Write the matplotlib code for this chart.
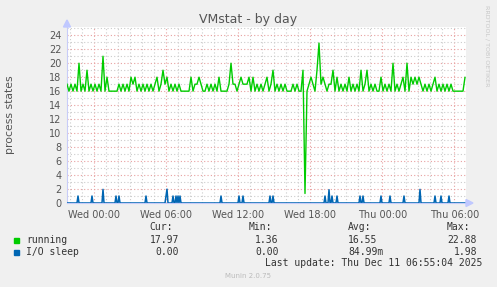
import numpy as np
import matplotlib
matplotlib.use("Agg")
import matplotlib.pyplot as plt
from matplotlib.ticker import MultipleLocator

# --- data (hours relative to Wed 00:00) ---
# running: one sample every 10 min, starting Tue ~21:43
run_start = -2.275
run_step = 1 / 6
running = [
    17, 16, 17, 16, 17, 16, 20, 16, 17, 16,
    19, 16, 17, 16, 17, 16, 17, 16, 21, 16,
    18, 16, 16, 16, 16, 16, 17, 16, 17, 16,
    17, 16, 18, 17, 18, 16, 17, 16, 17, 16,
    17, 16, 17, 16, 17, 18, 16, 17, 19, 17,
    18, 16, 17, 16, 17, 16, 17, 16, 16, 16,
    16, 16, 18, 16, 17, 17, 18, 17, 16, 16,
    17, 16, 17, 16, 17, 16, 18, 16, 16, 16,
    16, 17, 20, 17, 17, 16, 17, 18, 17, 17,
    17, 18, 16, 18, 16, 17, 16, 17, 16, 17,
    18, 16, 17, 19, 16, 17, 16, 17, 16, 17,
    16, 16, 16, 17, 16, 17, 16, 16, 19, 1.36,
    16, 17, 18, 17, 16, 19, 22.88, 17, 18, 17,
    16, 17, 17, 19, 16, 18, 16, 17, 16, 17,
    16, 18, 16, 17, 16, 17, 16, 19, 16, 17,
    19, 16, 17, 16, 17, 16, 16, 18, 16, 17,
    16, 17, 16, 20, 16, 17, 16, 17, 18, 16,
    20, 16, 18, 17, 18, 17, 18, 17, 16, 17,
    16, 17, 16, 17, 18, 16, 17, 16, 17, 16,
    17, 16, 17, 16, 16, 16, 16, 16, 16, 17.97,
]

# I/O sleep: 5-min samples, zero except these spikes (sample index, value)
io_count = 400
io_step = 1 / 12
io_spike_idx = [11, 25, 36, 49, 52, 79, 99, 100, 106, 109, 111, 113, 154,
                172, 176, 203, 206, 258, 262, 265, 270, 293, 296, 314, 323,
                337, 353, 368, 374, 382]
io_spike_val = [1, 1, 1.95, 1, 1, 1, 1, 1.98, 1, 1, 1, 1, 1,
                1, 1, 1, 1, 1, 1.9, 1, 1, 1, 1, 1, 1,
                1, 1.95, 1, 1, 1]

tick_pos = [0, 6, 12, 18, 24, 30]
tick_labels = ["Wed 00:00", "Wed 06:00", "Wed 12:00", "Wed 18:00",
               "Thu 00:00", "Thu 06:00"]

series_names = ["running", "I/O sleep"]
series_colors = ["#00CC00", "#0066B3"]
cur_vals = ["17.97", "0.00"]
min_vals = ["1.36", "0.00"]
avg_vals = ["16.55", "84.99m"]
max_vals = ["22.88", "1.98"]

# --- figure ---
W, H = 497, 287
fig = plt.figure(figsize=(W / 100, H / 100), dpi=100, facecolor="#F0F0F0")

def fx(px):
    return px / W

def fy(py):
    return 1 - py / H

left, right, top, bottom = 67, 466, 27, 203
ax = fig.add_axes([fx(left), fy(bottom), fx(right - left), fy(top) - fy(bottom)])
ax.set_facecolor("white")

run_t = run_start + run_step * np.arange(len(running))
io = np.zeros(io_count)
io[io_spike_idx] = io_spike_val
io_t = run_start + io_step * np.arange(io_count)

ax.set_xlim(run_start, run_start + 399 / 12)
ax.set_ylim(0, (bottom - top) / 6.99)

# grid
ax.xaxis.set_major_locator(MultipleLocator(6))
ax.xaxis.set_minor_locator(MultipleLocator(1))
ax.yaxis.set_major_locator(MultipleLocator(2))
ax.yaxis.set_minor_locator(MultipleLocator(1))
ax.grid(which="minor", color="#CCCCCC", linestyle=(0, (1, 2)), lw=0.8)
ax.grid(which="major", color="#E8A0A0", linestyle=(0, (1, 2)), lw=0.8)
ax.set_axisbelow(True)

ax.plot(run_t, running, color=series_colors[0], lw=1, zorder=3)
ax.plot(io_t, io, color=series_colors[1], lw=1.1, zorder=4)

ax.set_xticks(tick_pos)
ax.set_xticklabels(tick_labels)
ax.tick_params(which="both", length=0, labelsize=7, colors="#555555", pad=5)
ax.tick_params(axis="y", pad=4)

for s in ["top", "right"]:
    ax.spines[s].set_visible(False)
for s in ["left", "bottom"]:
    ax.spines[s].set_color("#C8CCF8")
    ax.spines[s].set_linewidth(0.8)

# axis arrows
fig.patches.append(plt.Polygon([[fx(63.5), fy(27)], [fx(70.5), fy(27)], [fx(67), fy(20)]],
                               closed=True, transform=fig.transFigure,
                               color="#C0C8FF", zorder=5))
fig.patches.append(plt.Polygon([[fx(466), fy(199.5)], [fx(466), fy(206.5)], [fx(473), fy(203)]],
                               closed=True, transform=fig.transFigure,
                               color="#C0C8FF", zorder=5))

fig.text(fx(248), fy(19), "VMstat - by day", ha="center", va="center",
         fontsize=9, color="#555555")
fig.text(fx(10), fy(115), "process states", ha="center", va="center",
         rotation=90, fontsize=7.8, color="#555555")
fig.text(fx(487), fy(5), "RRDTOOL / TOBI OETIKER", ha="center", va="top",
         rotation=270, fontsize=4.6, color="#C8C8C8")

# legend block
mono = "DejaVu Sans Mono"
tc = "#333333"
fs = 7
fig.text(fx(173), fy(227), "Cur:", ha="right", va="center", family=mono, fontsize=fs, color=tc)
fig.text(fx(272), fy(227), "Min:", ha="right", va="center", family=mono, fontsize=fs, color=tc)
fig.text(fx(348), fy(227), "Avg:", ha="left", va="center", family=mono, fontsize=fs, color=tc)
fig.text(fx(470), fy(227), "Max:", ha="right", va="center", family=mono, fontsize=fs, color=tc)
for k, y in enumerate([240, 252]):
    fig.patches.append(plt.Rectangle((fx(14), fy(y + 2.5)), fx(5), fy(0) - fy(5),
                                     transform=fig.transFigure, color=series_colors[k]))
    fig.text(fx(26.5), fy(y), series_names[k], ha="left", va="center",
             family=mono, fontsize=fs, color=tc)
    fig.text(fx(179), fy(y), cur_vals[k], ha="right", va="center", family=mono, fontsize=fs, color=tc)
    fig.text(fx(278.5), fy(y), min_vals[k], ha="right", va="center", family=mono, fontsize=fs, color=tc)
    fig.text(fx(348), fy(y), avg_vals[k], ha="left", va="center", family=mono, fontsize=fs, color=tc)
    fig.text(fx(477), fy(y), max_vals[k], ha="right", va="center", family=mono, fontsize=fs, color=tc)

fig.text(fx(482.5), fy(263.5), "Last update: Thu Dec 11 06:55:04 2025", ha="right",
         va="center", family=mono, fontsize=fs, color=tc)
fig.text(fx(248), fy(276), "Munin 2.0.75", ha="center", va="center",
         fontsize=5, color="#BBBBBB")

fig.savefig("out.png", dpi=100, facecolor=fig.get_facecolor())
